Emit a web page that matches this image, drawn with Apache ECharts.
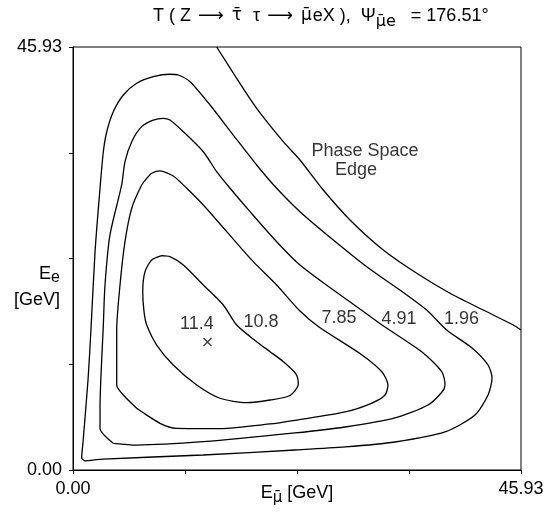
<!DOCTYPE html>
<html>
<head>
<meta charset="utf-8">
<script src="https://cdn.jsdelivr.net/npm/echarts@6/dist/echarts.min.js"></script>
<style>html,body{margin:0;padding:0;background:#fff}#c{width:553px;height:515px}</style>
</head>
<body>
<div id="c"></div>
<script>
// Axis range and tick labels
const axisMax = 45.93;
const tickLabels = ['0.00', '45.93'];

// Phase space edge [E_mu, E_e] in GeV
const phaseEdge = [[14.73,45.93],[16.78,42.53],[18.83,39.27],[21.56,35.65],[23.27,33.66],[25.66,30.40],[28.40,27.15],[31.81,23.89],[35.24,21.36],[38.65,19.19],[42.06,17.37],[45.14,15.74],[45.93,15.20]];

// Contour level 1.96
const contour196 = [[1.23,0.98],[0.89,1.30],[1.03,3.07],[1.54,9.77],[1.85,15.42],[2.26,23.70],[2.77,30.59],[3.11,34.56],[3.46,36.73],[4.13,38.90],[5.16,40.72],[6.53,41.99],[8.23,42.71],[9.94,42.97],[10.80,42.89],[12.00,42.16],[14.05,39.63],[16.43,36.37],[18.83,33.12],[20.88,30.59],[23.27,28.05],[26.69,24.97],[30.11,22.07],[33.52,19.54],[36.26,17.37],[38.31,15.20],[40.91,13.25],[42.55,11.40],[42.96,9.99],[42.55,8.14],[41.21,5.97],[38.14,4.13],[33.01,3.04],[27.89,2.50],[22.76,2.17],[13.33,1.63],[3.08,1.19],[1.23,0.98]];

// Contour level 4.91
const contour491 = [[4.13,2.90],[2.77,4.53],[2.77,6.73],[3.11,15.74],[3.28,20.09],[3.79,25.52],[4.99,30.95],[5.33,33.48],[6.02,35.65],[7.04,37.28],[8.23,38.00],[9.26,38.19],[9.94,38.00],[11.31,36.73],[13.36,34.56],[14.73,32.39],[16.10,30.59],[18.15,28.05],[20.88,24.79],[23.27,22.26],[26.69,19.54],[29.09,17.73],[31.68,15.74],[35.78,12.81],[37.83,10.64],[38.14,9.23],[37.83,8.47],[36.40,7.06],[33.01,5.65],[27.89,4.67],[22.76,4.02],[13.33,3.07],[6.53,2.71],[4.13,2.90]];

// Contour level 7.85
const contour785 = [[6.53,6.70],[5.16,8.14],[4.48,9.23],[4.48,15.20],[4.82,20.09],[5.33,24.79],[6.02,28.42],[7.04,30.95],[7.56,31.67],[8.07,32.22],[8.92,32.47],[10.28,31.92],[11.66,30.59],[13.36,28.77],[15.76,25.88],[18.48,22.62],[20.88,20.09],[23.27,17.26],[25.22,15.53],[29.63,12.49],[31.68,10.64],[32.29,9.23],[31.99,8.14],[30.65,7.27],[27.89,6.30],[22.76,5.40],[20.20,5.00],[15.07,4.50],[10.63,4.53],[8.92,5.07],[6.53,6.70]];

// Contour level 10.8
const contour108 = [[9.09,23.27],[9.94,23.16],[11.31,22.26],[13.36,20.09],[15.41,17.92],[16.78,15.74],[18.83,13.93],[20.20,12.85],[21.56,11.76],[22.86,10.42],[23.10,9.34],[22.25,8.09],[20.20,7.60],[17.81,7.31],[15.07,7.79],[12.68,9.23],[10.28,11.40],[8.58,13.57],[7.56,15.74],[7.28,17.19],[7.15,19.36],[7.38,21.53],[8.07,22.80],[9.09,23.27]];

// Maximum
const maxPoint = [[13.79,13.90]];

// Text annotations [x, y, text]
const contourLabels = [[12.71,15.85,'11.4'],[19.27,16.07,'10.8'],[27.27,16.45,'7.85'],[33.42,16.40,'4.91'],[39.83,16.40,'1.96']];
const edgeLabels = [[29.94,34.65,'Phase Space'],[29.01,32.59,'Edge']];

const FONT = '"Liberation Sans", Arial, Helvetica, sans-serif';
const DV = '"DejaVu Sans", sans-serif';
const chart = echarts.init(document.getElementById('c'), null, {renderer: 'canvas'});

function tickFmt(v) {
  if (Math.abs(v) < 1e-6) return tickLabels[0];
  if (Math.abs(v - axisMax) < 1e-6) return tickLabels[1];
  return '';
}

const lineSeries = (data) => ({
  type: 'line', data: data, showSymbol: false, symbol: 'none', smooth: 0.25,
  lineStyle: {color: '#000', width: 1.3}, silent: true, animation: false, z: 3
});

const axisCommon = {
  type: 'value', min: 0, max: axisMax, interval: axisMax / 4,
  splitLine: {show: false},
  axisLine: {show: true, lineStyle: {color: '#000', width: 1}},
  axisTick: {show: true, length: 4, lineStyle: {color: '#000', width: 1}},
  axisLabel: {formatter: tickFmt, color: '#000', fontSize: 18, fontFamily: FONT, showMinLabel: true, showMaxLabel: true}
};

const base = {fontSize: 18, fontFamily: FONT, fontWeight: 'normal', color: '#000', lineHeight: 24};
chart.setOption({
  animation: false,
  backgroundColor: '#fff',
  title: {
    text: '{a|T ( Z}{r|⟶}{g|τ\u0304}{b|τ}{r|⟶}{g|μ\u0304}{a|eX ),}{p|Ψ}{s|μ\u0304e}{q|= 176.51°}',
    left: 153, top: 4, padding: 0,
    textStyle: {
      fontWeight: 'normal',
      rich: {
        a: Object.assign({}, base, {padding: [0, 0, 0, 0]}),
        b: Object.assign({}, base, {padding: [0, 0, 0, 10]}),
        r: Object.assign({}, base, {fontFamily: DV, padding: [0, 7, 0, 7]}),
        g: Object.assign({}, base, {fontSize: 17, fontFamily: DV, padding: [0, 1, 0, 1]}),
        p: Object.assign({}, base, {padding: [0, 0, 0, 10]}),
        q: Object.assign({}, base, {padding: [0, 0, 0, 15]}),
        s: Object.assign({}, base, {fontSize: 16, fontFamily: DV, padding: [12, 0, 0, 0]})
      }
    }
  },
  grid: {left: 73, right: 32, top: 47, bottom: 45, containLabel: false, outerBoundsMode: 'none',
    show: true, borderColor: '#000', borderWidth: 1, backgroundColor: 'transparent'},
  xAxis: Object.assign({}, axisCommon, {
    axisLabel: Object.assign({}, axisCommon.axisLabel, {margin: 10}),
    name: '{e|E}{s|μ\u0304}{e| [GeV]}',
    nameLocation: 'middle', nameGap: 11, nameMoveOverlap: false,
    nameTextStyle: {
      rich: {
        e: {fontSize: 18, fontFamily: FONT, color: '#000'},
        s: {fontSize: 15, fontFamily: DV, color: '#000', padding: [10, 0, 0, 0]}
      }
    }
  }),
  yAxis: Object.assign({}, axisCommon, {
    axisLabel: Object.assign({}, axisCommon.axisLabel, {margin: 11})
  }),
  graphic: [{
    type: 'text', right: 553 - 60, top: 262,
    style: {
      text: '{e|E}{s|e}\n{e|[GeV]}', align: 'right',
      rich: {
        e: {fontSize: 18, fontFamily: FONT, fill: '#000', align: 'right', lineHeight: 26},
        s: {fontSize: 16, fontFamily: FONT, fill: '#000', align: 'right', padding: [8, 0, 0, 0], lineHeight: 26}
      }
    }
  }],
  series: [
    lineSeries(phaseEdge),
    lineSeries(contour196),
    lineSeries(contour491),
    lineSeries(contour785),
    lineSeries(contour108),
    {
      type: 'scatter', data: maxPoint, symbol: 'path://M0,0L10,10M10,0L0,10', symbolSize: 8,
      itemStyle: {color: 'none', borderColor: '#000', borderWidth: 1.2}, silent: true, z: 4
    },
    {
      type: 'scatter', data: contourLabels.concat(edgeLabels), symbolSize: 0, silent: true, z: 5,
      label: {show: true, position: 'inside', formatter: p => p.value[2], color: '#000', fontSize: 18, fontFamily: FONT}
    }
  ]
});
</script>
</body>
</html>
